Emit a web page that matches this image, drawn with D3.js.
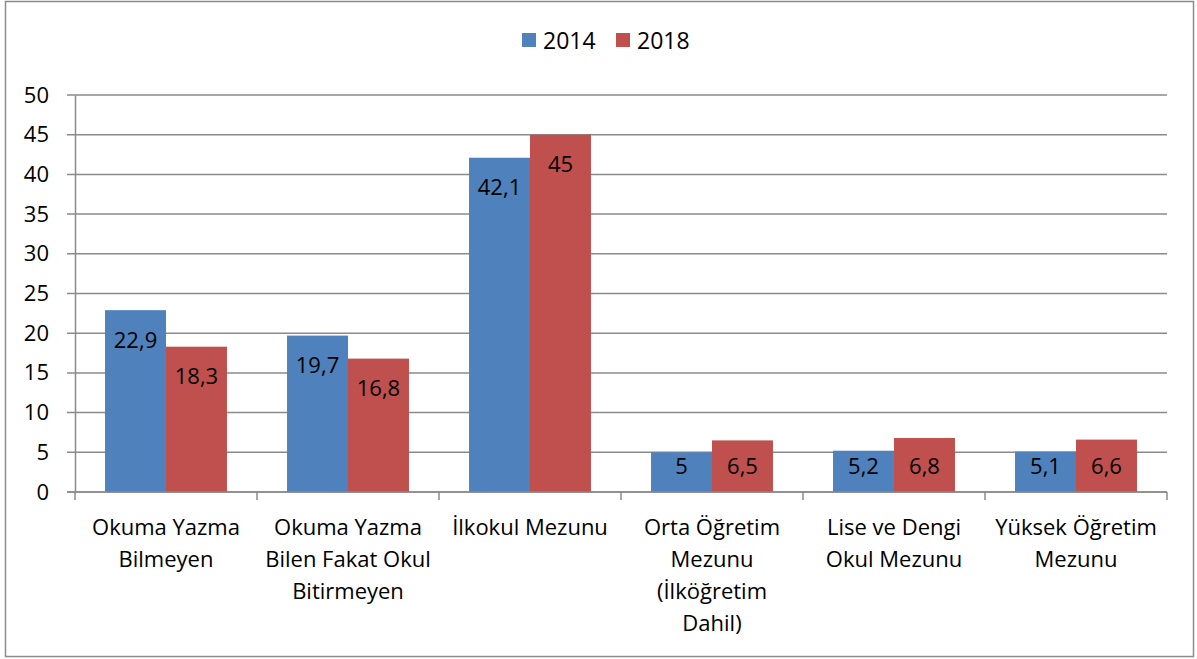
<!DOCTYPE html>
<html>
<head>
<meta charset="utf-8">
<script src="https://cdn.jsdelivr.net/npm/d3@7"></script>
<style>
  body { margin: 0; background: #fff; }
  text { font-family: "Open Sans", "Noto Sans", sans-serif; fill: #000; }
</style>
</head>
<body>
<div class="chart"></div>
<script>
const categories = [
  "Okuma Yazma\nBilmeyen",
  "Okuma Yazma\nBilen Fakat Okul\nBitirmeyen",
  "İlkokul Mezunu",
  "Orta Öğretim\nMezunu\n(İlköğretim\nDahil)",
  "Lise ve Dengi\nOkul Mezunu",
  "Yüksek Öğretim\nMezunu"
];
const seriesNames = ["2014", "2018"];
const values2014 = [22.9, 19.7, 42.1, 5, 5.2, 5.1];
const values2018 = [18.3, 16.8, 45, 6.5, 6.8, 6.6];
const yTicks = [0, 5, 10, 15, 20, 25, 30, 35, 40, 45, 50];

const W = 1197, H = 659,
      plotLeft = 75, plotRight = 1167, plotTop = 95, plotBottom = 492,
      colors = ["#4F81BD", "#C0504D"],
      fs = "22px",
      fmt = (v) => String(v).replace(".", ",");

const svg = d3.select(".chart")
  .append("svg")
  .attr("width", W)
  .attr("height", H);

svg.append("rect")
  .attr("x", 5.5).attr("y", 1.5)
  .attr("width", 1188).attr("height", 655)
  .attr("fill", "#fff")
  .attr("stroke", "#8c8c8c")
  .attr("stroke-width", 1.5);

const x = d3.scaleBand()
  .domain(d3.range(categories.length))
  .range([plotLeft, plotRight]);
const yScale = d3.scaleLinear()
  .domain([0, 50])
  .range([plotBottom, plotTop]);

// gridlines
svg.selectAll(".grid")
  .data(yTicks)
  .enter()
  .append("line")
  .attr("x1", plotLeft - 8)
  .attr("x2", plotRight)
  .attr("y1", (d) => yScale(d))
  .attr("y2", (d) => yScale(d))
  .attr("stroke", "#8a8a8a")
  .attr("stroke-width", 1.5);

// y axis
const yAxis = d3.axisLeft(yScale)
  .tickValues(yTicks)
  .tickSize(0)
  .tickPadding(26);
const gy = svg.append("g")
  .attr("transform", "translate(" + plotLeft + ",0)")
  .call(yAxis);
gy.select(".domain").attr("stroke", "#8a8a8a").attr("stroke-width", 1.5);
gy.selectAll("text")
  .style("font-size", fs)
  .style("font-family", "'Open Sans', sans-serif");

// x axis ticks
const xTicks = d3.range(categories.length + 1).map((i) => i === categories.length ? plotRight : x(i));
svg.selectAll(".xtick")
  .data(xTicks)
  .enter()
  .append("line")
  .attr("x1", (d) => d).attr("x2", (d) => d)
  .attr("y1", plotBottom).attr("y2", plotBottom + 8)
  .attr("stroke", "#8a8a8a")
  .attr("stroke-width", 1.5);

// bars
const bw = x.bandwidth() * 0.335,
      off = x.bandwidth() * 0.165;
const series = [values2014, values2018];
series.forEach((vals, s) => {
  const g = svg.append("g");
  g.selectAll("rect")
    .data(vals)
    .enter()
    .append("rect")
    .attr("x", (d, i) => x(i) + off + s * bw)
    .attr("y", (d) => yScale(d))
    .attr("width", bw)
    .attr("height", (d) => plotBottom - yScale(d))
    .attr("fill", colors[s]);
  g.selectAll("text")
    .data(vals)
    .enter()
    .append("text")
    .attr("x", (d, i) => x(i) + off + s * bw + bw / 2)
    .attr("y", (d) => Math.min(yScale(d) + 30, plotBottom - 26))
    .attr("dy", "0.35em")
    .attr("text-anchor", "middle")
    .style("font-size", fs)
    .text((d) => fmt(d));
});

// x axis line on top of bars
svg.append("line")
  .attr("x1", plotLeft - 8).attr("x2", plotRight)
  .attr("y1", plotBottom).attr("y2", plotBottom)
  .attr("stroke", "#8a8a8a")
  .attr("stroke-width", 1.5);

// category labels
categories.forEach((c, i) => {
  const t = svg.append("text")
    .attr("text-anchor", "middle")
    .style("font-size", fs);
  c.split("\n").forEach((line, j) => {
    t.append("tspan")
      .attr("x", x(i) + x.bandwidth() / 2)
      .attr("y", 535 + j * 32)
      .text(line);
  });
});

// legend
const legendX = [522, 616];
seriesNames.forEach((n, s) => {
  svg.append("rect")
    .attr("x", legendX[s]).attr("y", 33)
    .attr("width", 14).attr("height", 14)
    .attr("fill", colors[s]);
  svg.append("text")
    .attr("x", legendX[s] + 21)
    .attr("y", 41)
    .attr("dy", "0.35em")
    .style("font-size", "23px")
    .text(n);
});
</script>
</body>
</html>
